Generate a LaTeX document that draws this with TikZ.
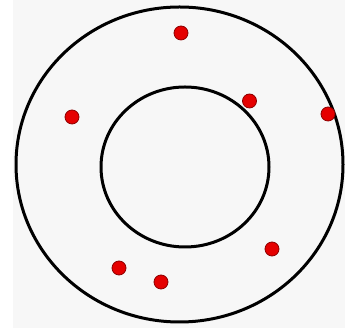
\documentclass[tikz,border=0pt]{standalone}
\begin{document}
\begin{tikzpicture}[x=1pt,y=1pt,
  ring/.style={draw=black,line width=3pt},
  dot/.style={circle,fill=red!90!black,draw=red!55!black,line width=0.8pt,minimum size=14pt,inner sep=0pt}]
\useasboundingbox (0,0) rectangle (345,328);
\fill[white] (0,0) rectangle (345,328);
\fill[black!3] (13,0) rectangle (345,328);
\coordinate (oc) at (179.5,163.5);
\coordinate (ic) at (185,161);
\draw[ring] (oc) ellipse [x radius=163.5, y radius=157.5];
\draw[ring] (ic) ellipse [x radius=84, y radius=80];
\node[dot] (d1) at (181,295) {};
\node[dot] (d2) at (72,211) {};
\node[dot] (d3) at (249.5,227) {};
\node[dot] (d4) at (328,214) {};
\node[dot] (d5) at (272,79) {};
\node[dot] (d6) at (119,60) {};
\node[dot] (d7) at (161,46) {};
\end{tikzpicture}
\end{document}
